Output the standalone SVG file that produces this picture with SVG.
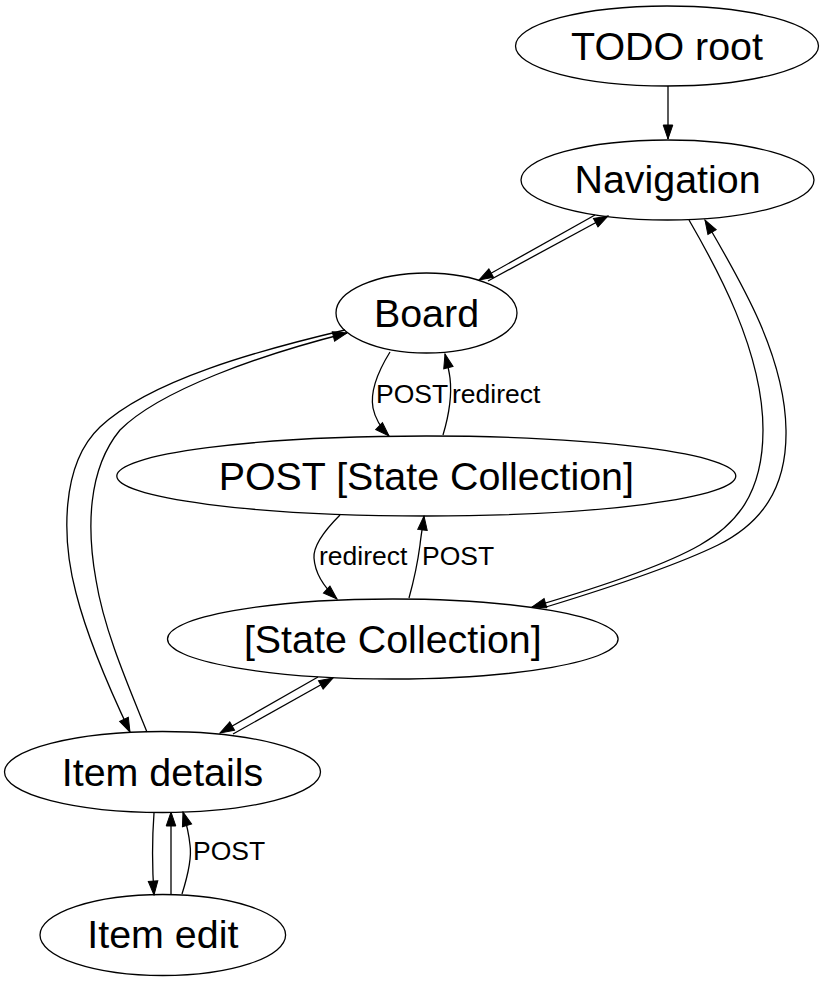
<svg xmlns="http://www.w3.org/2000/svg" width="825" height="981" viewBox="0 0 825 981">
<style>
  .node ellipse { fill: none; stroke: #000; stroke-width: 1.3; }
  .node text { font-family: "Liberation Sans", Arial, sans-serif; font-size: 39.4px; fill: #000; text-anchor: middle; }
  .edge path { fill: none; stroke: #000; stroke-width: 1.3; marker-end: url(#arrow); }
  .elabel { font-family: "Liberation Sans", Arial, sans-serif; font-size: 26.5px; fill: #000; }
</style>
<defs>
  <marker id="arrow" markerUnits="userSpaceOnUse" markerWidth="16" markerHeight="12" refX="14" refY="4.8" orient="auto" viewBox="-1 -1 16 12">
    <path d="M0,0 L14,4.8 L0,9.6 Z" fill="#000" stroke="#000" stroke-width="1"/>
  </marker>
</defs>
<rect width="825" height="981" fill="#fff"/>

<g id="connectors">
  <g class="edge" id="e-root-nav"><path d="M668,86 L668,139"/></g>
  <g class="edge" id="e-nav-board"><path d="M595,215 L479,280"/></g>
  <g class="edge" id="e-board-nav"><path d="M488,281 L608,216"/></g>
  <g class="edge" id="e-nav-sc"><path d="M689,220 C715,265 763,350 763,430 C763,495 735,525 700,545 C660,568 590,590 532,607"/></g>
  <g class="edge" id="e-sc-nav"><path d="M546,607 C605,589 675,566 718,545 C760,524 787,490 786,430 C785,355 740,280 705,220"/></g>
  <g class="edge" id="e-board-post"><path d="M390,352 C377,373 370,392 373,408 C375,418 380,427 389,436"/></g>
  <g class="edge" id="e-post-board"><path d="M443,435 C449,415 452,395 450,378 C449,370 447,362 445,354"/></g>
  <g class="edge" id="e-post-sc"><path d="M340,515 C325,530 313,545 314,558 C315,573 325,588 337,599"/></g>
  <g class="edge" id="e-sc-post"><path d="M409,598 C414,580 418,560 420,545 C421,535 423,525 424,516"/></g>
  <g class="edge" id="e-board-item"><path d="M345,330 C260,350 150,380 100,427 C60,465 62,540 76,593 C88,640 110,690 130,732"/></g>
  <g class="edge" id="e-item-board"><path d="M147,732 C128,685 104,630 96,580 C87,530 87,470 120,430 C160,390 260,355 347,333"/></g>
  <g class="edge" id="e-sc-item"><path d="M318,677 L220,733"/></g>
  <g class="edge" id="e-item-sc"><path d="M233,734 L333,678"/></g>
  <g class="edge" id="e-item-edit"><path d="M154,813 C152,840 152,865 154,895"/></g>
  <g class="edge" id="e-edit-item"><path d="M171,894 L171,812"/></g>
  <g class="edge" id="e-edit-item-post"><path d="M182,894 C188,875 192,858 190,845 C189,835 186,822 183,812"/></g>
  <text class="elabel" x="376" y="403">POST</text>
  <text class="elabel" x="452" y="403">redirect</text>
  <text class="elabel" x="319" y="565">redirect</text>
  <text class="elabel" x="422" y="565">POST</text>
  <text class="elabel" x="193" y="860">POST</text>
</g>

<g class="node" id="todo-root"><ellipse cx="667" cy="46" rx="151.5" ry="40"/><text x="667" y="59.5">TODO root</text></g>
<g class="node" id="navigation"><ellipse cx="667.5" cy="180" rx="146.5" ry="40"/><text x="667.5" y="193">Navigation</text></g>
<g class="node" id="board"><ellipse cx="426.5" cy="313" rx="90.5" ry="40"/><text x="426.5" y="326.5">Board</text></g>
<g class="node" id="post-state-collection"><ellipse cx="426.3" cy="476" rx="309.5" ry="40"/><text x="426.3" y="489.5">POST [State Collection]</text></g>
<g class="node" id="state-collection"><ellipse cx="392.8" cy="639" rx="225.3" ry="40"/><text x="392.8" y="652.5">[State Collection]</text></g>
<g class="node" id="item-details"><ellipse cx="162.5" cy="772" rx="158" ry="40.5"/><text x="162.5" y="785.5">Item details</text></g>
<g class="node" id="item-edit"><ellipse cx="162.8" cy="935" rx="122.8" ry="40.5"/><text x="162.8" y="948">Item edit</text></g>
</svg>
